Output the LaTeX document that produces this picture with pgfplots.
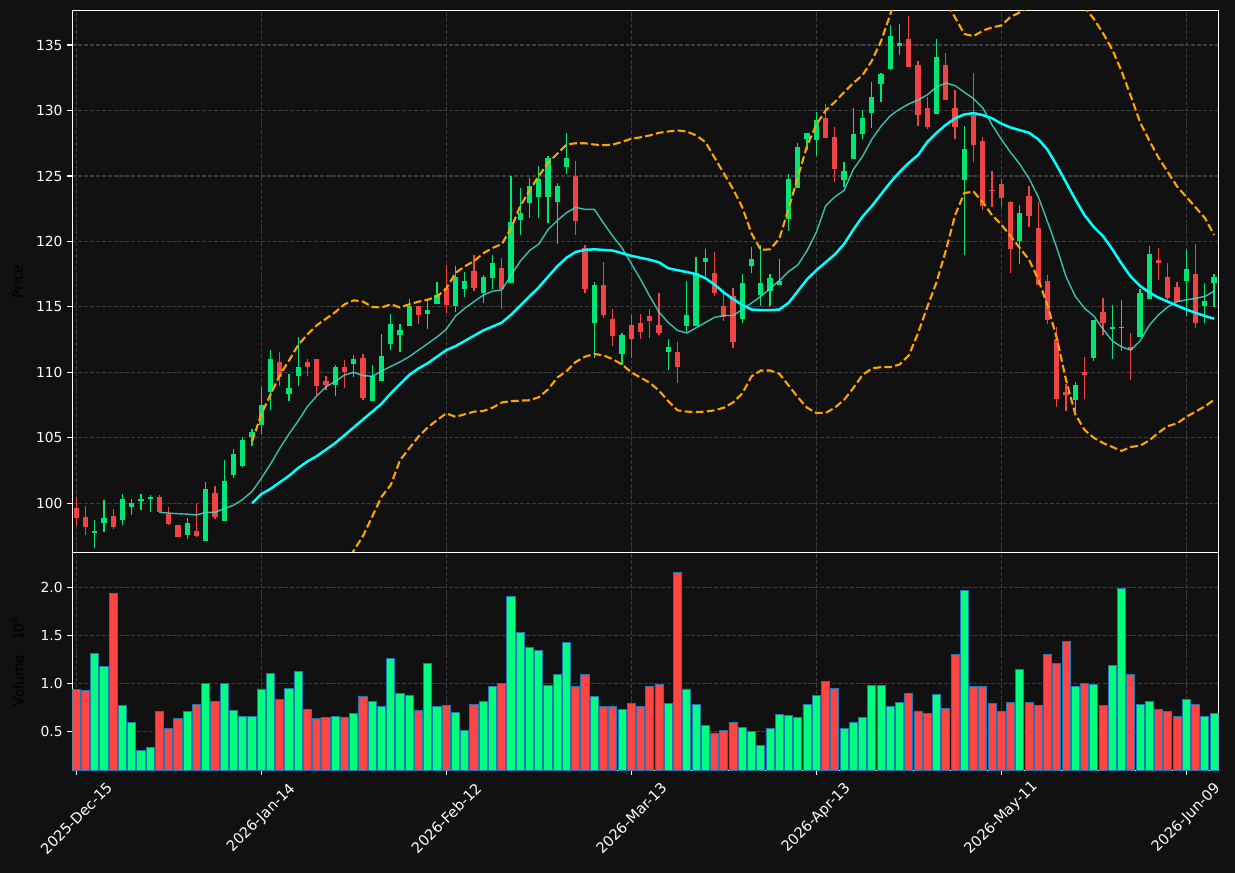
\documentclass[border=0pt]{standalone}
\usepackage{fontspec}
\setmainfont{DejaVu Sans}
\usepackage{pgfplots}
\pgfplotsset{compat=1.18}
\usepackage{pgfplotstable}
\definecolor{bg}{HTML}{111111}
\definecolor{gridc}{HTML}{3C3C3C}
\definecolor{upc}{HTML}{00E676}
\definecolor{dnc}{HTML}{EF4444}
\definecolor{vup}{HTML}{00FF7F}
\definecolor{vdn}{HTML}{FF4444}
\definecolor{vedge}{HTML}{1F77B4}
\definecolor{maten}{HTML}{40E0D0}
\definecolor{matw}{HTML}{00FFFF}
\definecolor{bbc}{HTML}{FFA500}

\pgfplotstableread{
i O H L C V
2 97.76 98.70 96.56 97.89 1.31
3 98.50 100.23 97.84 98.88 1.18
5 98.73 100.69 98.32 100.33 0.77
6 99.75 100.31 99.08 100.03 0.59
7 100.18 100.69 99.47 100.33 0.30
8 100.36 100.64 99.36 100.51 0.33
12 97.61 98.85 97.25 98.50 0.70
14 97.15 101.60 97.15 101.09 1.00
16 98.68 103.31 98.68 101.70 1.00
17 102.16 104.12 101.91 103.77 0.72
18 102.88 105.06 102.77 104.83 0.65
19 105.06 105.65 104.35 105.45 0.65
20 106.01 108.85 105.29 107.51 0.94
21 108.53 111.67 107.12 111.00 1.10
23 108.38 109.87 107.81 108.84 0.95
24 109.69 112.72 108.92 110.39 1.12
28 109.00 110.54 108.20 110.39 0.65
30 110.62 111.31 109.64 111.00 0.68
32 107.84 110.59 107.84 109.74 0.81
33 109.31 112.90 109.31 111.23 0.76
34 112.19 114.47 111.70 113.73 1.26
35 112.88 113.70 111.59 113.24 0.89
36 113.57 115.60 113.57 115.09 0.87
38 114.47 115.55 113.34 114.78 1.21
39 115.24 116.90 115.24 115.94 0.76
41 115.03 118.09 114.59 117.25 0.69
42 116.36 117.63 115.74 116.94 0.51
44 116.05 117.40 115.31 117.25 0.81
45 117.20 118.94 116.36 118.32 0.97
47 116.82 125.03 116.82 121.47 1.91
48 121.65 124.10 120.52 122.16 1.53
49 122.95 124.87 121.80 124.23 1.37
50 123.41 125.77 121.80 124.77 1.34
51 123.41 126.53 121.42 126.38 0.98
52 123.03 124.46 119.83 124.23 1.09
53 125.72 128.27 125.13 126.38 1.43
56 113.75 116.89 111.06 116.64 0.86
59 111.37 113.01 110.58 112.88 0.73
64 111.52 112.54 110.17 111.96 0.79
66 113.52 116.99 113.06 114.41 0.94
67 113.52 118.84 113.52 117.61 0.78
68 118.43 119.45 117.35 118.71 0.56
72 114.05 117.53 113.75 116.79 0.54
73 118.12 119.58 117.61 118.63 0.50
74 115.90 119.73 115.08 116.79 0.35
75 116.20 117.53 115.08 117.23 0.53
76 116.66 118.68 116.66 116.99 0.67
77 121.73 125.13 120.83 124.74 0.66
78 124.10 127.51 124.10 127.20 0.64
79 127.86 128.27 126.97 128.27 0.78
80 127.73 129.90 126.51 129.31 0.87
83 124.67 126.07 124.13 125.41 0.53
84 126.28 130.20 126.28 128.24 0.59
85 128.19 130.05 127.83 129.44 0.64
86 129.80 132.17 128.67 131.07 0.98
87 132.02 132.88 130.66 132.76 0.98
88 133.16 136.53 133.09 135.66 0.76
89 134.92 136.63 134.23 135.18 0.80
93 129.77 135.48 129.77 134.06 0.88
96 124.67 128.80 118.93 127.09 1.97
102 120.03 122.81 118.29 122.14 1.14
108 107.88 109.26 107.07 109.06 0.97
110 111.07 114.03 110.87 114.03 0.99
112 113.29 115.15 111.02 113.49 1.19
113 113.37 115.54 111.66 113.49 1.99
115 112.68 116.35 112.68 116.07 0.78
116 115.59 119.64 115.59 119.01 0.81
120 116.96 119.44 114.34 117.86 0.83
122 115.05 116.84 113.75 115.48 0.65
123 116.81 117.53 114.97 117.32 0.68
}\uptab

\pgfplotstableread{
i O H L C V
0 99.64 100.48 98.30 98.91 0.93
1 98.96 99.80 97.56 98.22 0.92
4 99.03 99.54 98.02 98.22 1.94
9 100.48 100.64 99.24 99.36 0.70
10 99.21 99.72 98.37 98.45 0.53
11 98.35 98.37 97.40 97.46 0.63
13 97.89 100.00 97.43 97.53 0.78
15 100.79 101.30 98.83 98.98 0.81
22 110.77 111.54 108.92 109.61 0.83
25 110.77 111.05 109.74 110.39 0.73
26 111.00 111.00 108.28 108.92 0.63
27 109.31 109.69 108.66 109.00 0.64
29 110.39 110.98 108.79 110.00 0.64
31 111.08 111.39 107.92 108.07 0.86
37 115.09 115.09 113.73 114.40 0.72
40 116.46 118.20 114.54 115.18 0.77
43 117.71 118.94 116.20 116.43 0.78
46 117.94 118.76 114.85 116.36 1.00
54 125.00 126.15 120.52 121.57 0.97
55 119.48 119.76 116.05 116.36 1.09
57 116.64 118.45 114.13 114.36 0.76
58 114.08 114.85 111.98 112.75 0.76
60 113.64 114.39 111.06 112.52 0.79
61 113.77 114.46 112.52 113.11 0.76
62 114.31 114.85 112.62 113.90 0.97
63 113.62 116.07 112.83 112.98 0.99
65 111.57 112.31 109.17 110.42 2.16
69 117.56 119.22 115.82 116.05 0.48
70 115.10 116.30 113.95 114.21 0.51
71 115.82 116.46 111.83 112.29 0.59
81 129.39 130.51 127.88 127.88 1.02
82 128.01 128.75 124.54 125.51 0.95
90 135.43 137.24 133.32 133.32 0.89
91 133.44 133.78 128.80 129.64 0.71
92 130.20 131.02 128.57 128.72 0.68
94 133.44 134.39 130.84 130.84 0.74
95 130.23 131.58 127.81 128.72 1.30
97 129.62 132.88 126.07 127.35 0.97
98 127.68 127.98 122.37 122.68 0.97
99 123.95 125.41 122.63 123.83 0.79
100 124.41 124.74 122.60 123.34 0.70
101 123.00 123.10 117.60 119.41 0.80
103 123.44 124.26 121.12 121.94 0.80
104 120.99 122.98 116.66 116.66 0.77
105 116.94 117.45 113.70 113.98 1.30
106 112.58 113.44 107.32 107.93 1.21
107 108.49 109.11 107.07 108.24 1.44
109 110.05 111.15 107.96 109.77 1.00
111 114.62 115.69 112.86 113.78 0.77
114 111.96 112.98 109.41 111.71 1.09
117 118.55 119.52 117.02 118.34 0.73
118 117.32 118.37 115.41 115.66 0.70
119 116.51 116.91 115.41 115.41 0.65
121 117.55 119.80 113.39 113.75 0.78
}\dntab

\pgfplotstableread{
i v
9 99.31
10 99.25
11 99.20
12 99.17
13 99.11
14 99.30
15 99.30
16 99.60
17 99.85
18 100.30
19 100.90
20 101.90
21 103.00
22 104.20
23 105.30
24 106.30
25 107.40
26 108.20
27 108.90
28 109.30
29 109.80
30 110.00
31 109.75
32 109.70
33 110.10
34 110.45
35 110.80
36 111.20
37 111.70
38 112.20
39 112.70
40 113.30
41 114.30
42 114.90
43 115.40
44 115.90
45 116.20
46 116.30
47 117.40
48 118.50
49 119.30
50 119.80
51 120.90
52 121.60
53 122.20
54 122.60
55 122.45
56 122.45
57 121.40
58 120.40
59 119.50
60 118.30
61 117.10
62 115.80
63 114.60
64 113.80
65 113.20
66 113.00
67 113.40
68 113.80
69 114.20
70 114.34
71 114.34
72 114.80
73 115.30
74 115.80
75 116.40
76 117.00
77 117.70
78 118.20
79 119.30
80 120.70
81 122.70
82 123.40
83 123.90
84 125.50
85 126.50
86 127.80
87 128.80
88 129.60
89 130.10
90 130.50
91 130.80
92 131.20
93 131.80
94 132.10
95 131.90
96 131.40
97 130.90
98 130.20
99 128.90
100 127.80
101 126.80
102 125.90
103 124.80
104 123.40
105 121.50
106 119.50
107 117.30
108 115.80
109 114.90
110 114.30
111 113.30
112 112.40
113 111.95
114 111.70
115 112.40
116 113.60
117 114.40
118 115.00
119 115.40
120 115.54
121 115.65
122 115.80
123 116.20
}\maten

\pgfplotstableread{
i v
19 100.00
20 100.70
21 101.10
22 101.60
23 102.10
24 102.70
25 103.20
26 103.60
27 104.10
28 104.60
29 105.20
30 105.80
31 106.40
32 107.00
33 107.60
34 108.40
35 109.10
36 109.80
37 110.30
38 110.70
39 111.20
40 111.70
41 112.00
42 112.40
43 112.80
44 113.20
45 113.50
46 113.80
47 114.40
48 115.10
49 115.80
50 116.50
51 117.30
52 118.10
53 118.76
54 119.20
55 119.35
56 119.40
57 119.35
58 119.30
59 119.10
60 118.90
61 118.75
62 118.60
63 118.40
64 117.95
65 117.80
66 117.66
67 117.50
68 117.20
69 116.70
70 116.10
71 115.60
72 115.15
73 114.80
74 114.75
75 114.75
76 114.80
77 115.30
78 116.20
79 117.10
80 117.80
81 118.40
82 119.00
83 119.80
84 120.90
85 121.90
86 122.70
87 123.60
88 124.50
89 125.30
90 126.00
91 126.60
92 127.60
93 128.30
94 128.90
95 129.40
96 129.70
97 129.80
98 129.65
99 129.40
100 129.00
101 128.70
102 128.50
103 128.30
104 127.80
105 127.00
106 125.80
107 124.50
108 123.20
109 122.00
110 121.10
111 120.40
112 119.40
113 118.30
114 117.30
115 116.60
116 116.10
117 115.70
118 115.40
119 115.10
120 114.80
121 114.55
122 114.30
123 114.10
}\matw

\pgfplotstableread{
i v
19 104.70
20 106.80
21 108.30
22 109.80
23 110.90
24 112.10
25 112.90
26 113.60
27 114.10
28 114.60
29 115.20
30 115.50
31 115.40
32 115.00
33 114.95
34 115.20
35 114.95
36 115.20
37 115.40
38 115.55
39 115.80
40 116.40
41 117.60
42 118.10
43 118.50
44 119.10
45 119.50
46 119.80
47 121.00
48 122.70
49 123.90
50 125.00
51 126.00
52 126.70
53 127.40
54 127.50
55 127.50
56 127.40
57 127.35
58 127.40
59 127.60
60 127.85
61 127.95
62 128.10
63 128.30
64 128.40
65 128.48
66 128.40
67 128.10
68 127.60
69 126.40
70 125.20
71 124.00
72 122.60
73 120.60
74 119.35
75 119.40
76 120.20
77 122.50
78 124.90
79 127.30
80 128.90
81 130.00
82 130.65
83 131.40
84 132.10
85 132.70
86 133.80
87 135.30
88 137.35
89 140.00
90 141.00
91 141.00
92 140.30
93 139.30
94 138.40
95 137.10
96 135.85
97 135.68
98 136.10
99 136.35
100 136.50
101 137.15
102 137.50
103 137.90
104 138.50
105 139.30
106 139.60
107 139.30
108 138.60
109 137.90
110 137.00
111 135.90
112 134.65
113 133.00
114 131.10
115 129.10
116 127.70
117 126.40
118 125.30
119 124.20
120 123.40
121 122.60
122 121.80
123 120.50
}\bbup

\pgfplotstableread{
i v
19 95.30
20 94.60
21 93.90
22 93.40
23 93.30
24 93.30
25 93.50
26 93.60
27 94.10
28 94.60
29 95.20
30 96.40
31 97.50
32 99.00
33 100.50
34 101.40
35 103.30
36 104.20
37 105.10
38 105.80
39 106.35
40 106.87
41 106.60
42 106.80
43 107.00
44 107.05
45 107.30
46 107.70
47 107.80
48 107.84
49 107.87
50 108.10
51 108.70
52 109.60
53 110.10
54 110.80
55 111.20
56 111.40
57 111.30
58 111.00
59 110.60
60 110.00
61 109.60
62 109.20
63 108.60
64 107.80
65 107.10
66 107.00
67 106.97
68 107.00
69 107.10
70 107.30
71 107.70
72 108.40
73 109.70
74 110.14
75 110.14
76 109.90
77 109.00
78 108.10
79 107.30
80 106.90
81 106.90
82 107.30
83 107.90
84 108.80
85 109.80
86 110.30
87 110.40
88 110.40
89 110.60
90 111.30
91 113.00
92 115.00
93 116.90
94 119.30
95 122.00
96 123.70
97 123.80
98 123.00
99 122.00
100 121.30
101 120.40
102 119.50
103 118.60
104 117.10
105 115.10
106 112.60
107 109.40
108 106.80
109 105.60
110 105.00
111 104.60
112 104.30
113 104.00
114 104.30
115 104.40
116 104.80
117 105.40
118 105.90
119 106.10
120 106.60
121 107.00
122 107.40
123 107.90
}\bblo

\pgfplotsset{
  darkax/.style={
    scale only axis,
    width=825.4bp,
    xmin=-0.43, xmax=123.5,
    xtick={0,20,40,60,80,100,120},
    axis line style={white, line width=1bp},
    tick align=outside,
    major tick length=3.5bp,
    tick style={white, line width=0.8bp},
    grid=major,
    major grid style={gridc, dash pattern=on 2.96bp off 1.28bp, line width=0.8bp},
    tick label style={font=\fontsize{10}{12}\selectfont, text=white},
    label style={font=\fontsize{10.5}{12}\selectfont, text=white},
    /pgf/number format/assume math mode=true,
    ytick pos=left,
  },
  wick/.style={draw=none, mark=none,
    error bars/.cd, y dir=plus, y explicit, error mark=none,
    error bar style={draw=#1, solid, line width=0.85bp}},
  body/.style={draw=none, mark=none,
    error bars/.cd, y dir=plus, y explicit, error mark=none,
    error bar style={draw=#1, solid, line width=3.8bp}},
}

\begin{document}
\begin{tikzpicture}
\fill[bg] (0,0) rectangle (889.2bp,628.56bp);

\begin{axis}[darkax,
  at={(52.06bp,230.76bp)}, anchor=south west,
  height=390.24bp,
  ymin=96.24, ymax=137.64,
  ytick={100,105,110,115,120,125,130,135},
  xmajorticks=false,
  ylabel={Price},
  every axis y label/.style={at={(axis description cs:0,0.5)}, xshift=-32bp, rotate=90, anchor=south},
]
\addplot[wick=upc] table[x=i, y=L, y error expr=\thisrow{H}-\thisrow{L}] {\uptab};
\addplot[body=upc] table[x=i, y=O, y error expr={max(\thisrow{C}-\thisrow{O},0.07)}] {\uptab};
\addplot[wick=dnc] table[x=i, y=L, y error expr=\thisrow{H}-\thisrow{L}] {\dntab};
\addplot[body=dnc] table[x=i, y=C, y error expr={max(\thisrow{O}-\thisrow{C},0.07)}] {\dntab};
\addplot[maten, line width=1bp, mark=none, opacity=0.85] table[x=i, y=v] {\maten};
\addplot[matw, line width=1.8bp, mark=none] table[x=i, y=v] {\matw};
\addplot[bbc, line width=1.5bp, mark=none, dash pattern=on 5.55bp off 2.4bp] table[x=i, y=v] {\bbup};
\addplot[bbc, line width=1.5bp, mark=none, dash pattern=on 5.55bp off 2.4bp] table[x=i, y=v] {\bblo};
\end{axis}

\begin{axis}[darkax,
  at={(52.06bp,73.94bp)}, anchor=south west,
  height=156.82bp,
  ymin=0.09, ymax=2.367,
  ytick={0.5,1,1.5,2},
  yticklabel style={/pgf/number format/.cd, fixed, fixed zerofill, precision=1},
  xtick pos=bottom,
  xticklabels={2025-Dec-15,2026-Jan-14,2026-Feb-12,2026-Mar-13,2026-Apr-13,2026-May-11,2026-Jun-09},
  xticklabel style={yshift=-31bp, rotate=45, anchor=center, font=\fontsize{10.5}{12}\selectfont},
  ylabel={Volume\quad 10\textsuperscript{6}},
  every axis y label/.style={at={(axis description cs:0,0.5)}, xshift=-31.5bp, rotate=90, anchor=south},
]
\addplot[ybar, bar width=0.88, bar shift=0pt, fill=vup, draw=vedge, line width=0.7bp] table[x=i, y=V] {\uptab};
\addplot[ybar, bar width=0.88, bar shift=0pt, fill=vdn, draw=vedge, line width=0.7bp] table[x=i, y=V] {\dntab};
\end{axis}

\pgfresetboundingbox
\path (0,0) rectangle (889.2bp,628.56bp);
\end{tikzpicture}
\end{document}
